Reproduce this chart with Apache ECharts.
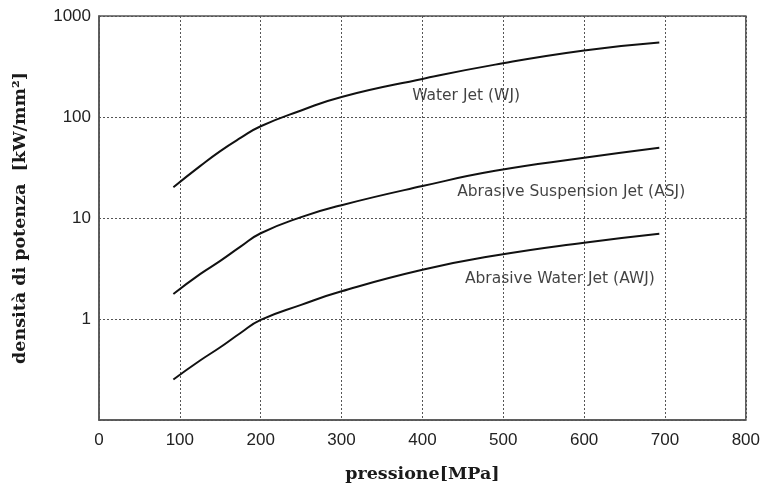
<!DOCTYPE html>
<html>
<head>
<meta charset="utf-8">
<script src="https://cdn.jsdelivr.net/npm/echarts@6/dist/echarts.min.js"></script>
<style>
  html, body { margin: 0; padding: 0; background: #fff; }
  #chart { width: 763px; height: 490px; }
</style>
</head>
<body>
<div id="chart"></div>
<script>
// pressione [MPa]
const pressure = [92, 125, 150, 175, 200, 250, 300, 400, 490, 600, 693]
// densità di potenza [kW/mm²]
const wjValues = [20.2, 32.6, 46, 62, 81, 116, 158, 238, 330, 456, 547]
const asjValues = [1.77, 2.78, 3.76, 5.2, 7.06, 10.2, 13.4, 20.7, 29.3, 39.4, 49.5]
const awjValues = [0.252, 0.388, 0.525, 0.727, 0.98, 1.38, 1.88, 3.07, 4.25, 5.7, 7.0]
const seriesNames = ['Water Jet (WJ)', 'Abrasive Suspension Jet (ASJ)', 'Abrasive Water Jet (AWJ)']
// posizione delle etichette [pressione, densità]
const labelAnchors = [[454, 163], [584, 18.2], [570, 2.48]]

const lineColor = '#111'
const gridColor = '#555'

function pairs(values) {
  return pressure.map((p, i) => [p, values[i]])
}

// curva
function makeSeries(name, values) {
  return {
    name: name,
    type: 'line',
    data: pairs(values),
    smooth: 0.5,
    showSymbol: false,
    lineStyle: { color: lineColor, width: 2 },
    silent: true
  }
}

const chart = echarts.init(document.getElementById('chart'), null, { renderer: 'canvas' })
chart.setOption({
  animation: false,
  backgroundColor: '#fff',
  grid: {
    left: 99,
    right: 17,
    top: 16,
    bottom: 70,
    show: true,
    borderColor: gridColor,
    borderWidth: 1.5
  },
  xAxis: {
    type: 'value',
    min: 0,
    max: 800,
    interval: 100,
    name: 'pressione[MPa]',
    nameLocation: 'middle',
    nameGap: 45,
    nameTextStyle: {
      fontFamily: 'DejaVu Serif',
      fontWeight: 'bold',
      fontSize: 17.5,
      color: '#1a1a1a'
    },
    axisLine: { lineStyle: { color: gridColor, width: 1.5 } },
    axisTick: { show: false },
    axisLabel: {
      margin: 12,
      fontFamily: 'Liberation Sans',
      fontSize: 17,
      color: '#222'
    },
    splitLine: {
      show: true,
      lineStyle: { color: gridColor, type: [2, 2], width: 1 }
    }
  },
  yAxis: {
    type: 'log',
    logBase: 10,
    min: 0.1,
    max: 1000,
    name: 'densità di potenza  [kW/mm²]',
    nameLocation: 'middle',
    nameGap: 70,
    nameTextStyle: {
      fontFamily: 'DejaVu Serif',
      fontWeight: 'bold',
      fontSize: 17.5,
      color: '#1a1a1a'
    },
    axisLine: { show: true, lineStyle: { color: gridColor, width: 1.5 } },
    axisTick: { show: false },
    axisLabel: {
      margin: 8,
      fontFamily: 'Liberation Sans',
      fontSize: 17,
      color: '#222',
      formatter: v => (v < 1 ? '' : String(Math.round(v)))
    },
    splitLine: {
      show: true,
      lineStyle: { color: gridColor, type: [2, 2], width: 1 }
    }
  },
  series: [
    makeSeries(seriesNames[0], wjValues),
    makeSeries(seriesNames[1], asjValues),
    makeSeries(seriesNames[2], awjValues),
    // etichette delle curve
    {
      type: 'scatter',
      silent: true,
      symbolSize: 1,
      itemStyle: { color: 'rgba(0,0,0,0)' },
      data: labelAnchors,
      label: {
        show: true,
        position: 'inside',
        formatter: p => seriesNames[p.dataIndex],
        color: '#111',
        fontFamily: 'DejaVu Sans',
        fontSize: 15.5
      }
    }
  ]
})
</script>
</body>
</html>
